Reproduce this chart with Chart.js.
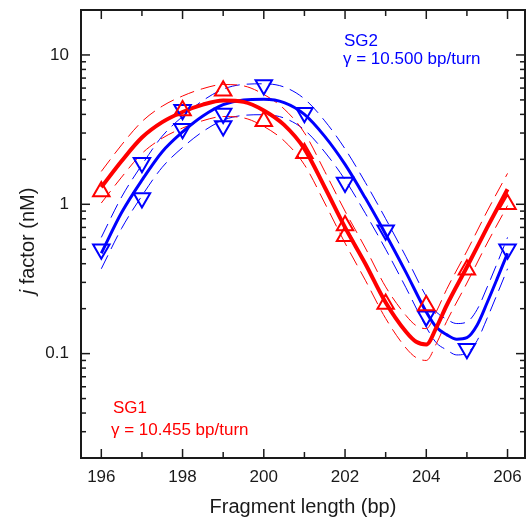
<!DOCTYPE html>
<html lang="en">
<head>
<meta charset="UTF-8">
<script src="https://cdn.jsdelivr.net/npm/chart.js@4.4.0/dist/chart.umd.min.js"></script>
<style>
  html, body { margin: 0; padding: 0; background: #fff; }
  #wrap { width: 527px; height: 519px; }
</style>
</head>
<body>
<div id="wrap"><canvas id="chart" width="527" height="519"></canvas></div>
<script>
// measured points
const sg1X = [196, 198, 199, 200, 201, 202, 202, 203, 204, 205, 206];
const sg1Y = [1.22, 4.25, 5.75, 3.6, 2.2, 0.72, 0.61, 0.215, 0.21, 0.365, 1.0];
const sg2X = [196, 197, 197, 198, 198, 199, 199, 200, 201, 202, 203, 204, 205, 206];
const sg2Y = [0.5, 1.9, 1.1, 4.3, 3.2, 4.05, 3.35, 6.3, 4.1, 1.4, 0.67, 0.178, 0.108, 0.5];

// fitted curves and their dashed bands
const fit1X = [196, 196.5, 197, 197.5, 198, 198.5, 199, 199.5, 200, 200.5, 201, 201.5, 202, 202.5, 203, 203.5, 203.75, 204, 204.25, 204.5, 205, 205.5, 206];
const fit1Y = [1.3, 1.95, 2.8, 3.55, 4.15, 4.65, 4.95, 4.85, 4.25, 3.4, 2.35, 1.3, 0.7, 0.4, 0.22, 0.14, 0.12, 0.115, 0.15, 0.21, 0.38, 0.7, 1.26];
const fit1Hi = [1.66, 2.5, 3.58, 4.54, 5.31, 5.95, 6.34, 6.21, 5.44, 4.35, 3.01, 1.66, 0.9, 0.51, 0.28, 0.18, 0.154, 0.147, 0.192, 0.269, 0.486, 0.9, 1.61];
const fit1Lo = [1.02, 1.52, 2.19, 2.77, 3.24, 3.63, 3.87, 3.79, 3.32, 2.66, 1.84, 1.02, 0.55, 0.31, 0.172, 0.109, 0.094, 0.09, 0.117, 0.164, 0.297, 0.55, 0.98];

const fit2X = [196, 196.5, 197, 197.5, 198, 198.5, 199, 199.5, 200, 200.5, 201, 201.5, 202, 202.5, 203, 203.5, 204, 204.25, 204.5, 204.75, 205, 205.25, 205.5, 205.75, 206];
const fit2Y = [0.47, 0.88, 1.45, 2.25, 3.05, 3.9, 4.65, 5.0, 5.05, 4.8, 4.0, 2.85, 1.85, 1.1, 0.63, 0.35, 0.19, 0.15, 0.134, 0.125, 0.128, 0.155, 0.22, 0.32, 0.47];
const fit2Hi = [0.6, 1.12, 1.84, 2.86, 3.87, 4.95, 5.9, 6.35, 6.41, 6.1, 5.08, 3.62, 2.35, 1.4, 0.8, 0.445, 0.241, 0.19, 0.17, 0.159, 0.163, 0.197, 0.279, 0.406, 0.6];
const fit2Lo = [0.37, 0.69, 1.14, 1.77, 2.4, 3.07, 3.66, 3.94, 3.98, 3.78, 3.15, 2.24, 1.46, 0.87, 0.5, 0.276, 0.15, 0.118, 0.106, 0.098, 0.101, 0.122, 0.173, 0.252, 0.37];

// ticks
const xMajor = [196, 198, 200, 202, 204, 206];
const xMinor = [197, 199, 201, 203, 205];
const yMajor = [0.1, 1, 10];
const yMinor = [0.02, 0.03, 0.04, 0.05, 0.06, 0.07, 0.08, 0.09, 0.2, 0.3, 0.4, 0.5, 0.6, 0.7, 0.8, 0.9, 2, 3, 4, 5, 6, 7, 8, 9];

const RED = '#ff0000';
const BLUE = '#0000ff';
const INK = '#1a1a1a';
const FONT = '"Liberation Sans", Arial, sans-serif';

function pts(xs, ys) {
    return xs.map((x, i) => ({ x: x, y: ys[i] }));
}

function curve(xs, ys, color, width, dashed) {
    return {
        data: pts(xs, ys),
        showLine: true,
        borderColor: color,
        borderWidth: width,
        borderDash: dashed ? [15, 7] : [],
        pointRadius: 0,
        cubicInterpolationMode: 'monotone',
        fill: false
    };
}

const frameTicks = {
    id: 'frameTicks',
    beforeDatasetsDraw(chart) {
        const { ctx, chartArea: a, scales: { x, y } } = chart;
        ctx.save();
        ctx.strokeStyle = INK;
        ctx.lineWidth = 1.5;
        const seg = (x1, y1, x2, y2) => {
            ctx.beginPath();
            ctx.moveTo(x1, y1);
            ctx.lineTo(x2, y2);
            ctx.stroke();
        };
        xMajor.forEach(v => {
            const p = x.getPixelForValue(v);
            seg(p, a.bottom, p, a.bottom - 9);
            seg(p, a.top, p, a.top + 9);
        });
        xMinor.forEach(v => {
            const p = x.getPixelForValue(v);
            seg(p, a.bottom, p, a.bottom - 6);
            seg(p, a.top, p, a.top + 6);
        });
        yMajor.forEach(v => {
            const p = y.getPixelForValue(v);
            seg(a.left, p, a.left + 9, p);
            seg(a.right, p, a.right - 9, p);
        });
        yMinor.forEach(v => {
            const p = y.getPixelForValue(v);
            seg(a.left, p, a.left + 5, p);
            seg(a.right, p, a.right - 5, p);
        });
        ctx.lineWidth = 2;
        ctx.strokeRect(a.left, a.top, a.right - a.left, a.bottom - a.top);

        // x tick labels
        ctx.fillStyle = INK;
        ctx.font = '17px ' + FONT;
        ctx.textAlign = 'center';
        ctx.textBaseline = 'alphabetic';
        xMajor.forEach(v => {
            ctx.fillText(String(v), x.getPixelForValue(v), a.bottom + 24);
        });
        ctx.restore();
    },
    afterDraw(chart) {
        const { ctx, chartArea: a } = chart;
        ctx.save();
        ctx.textBaseline = 'alphabetic';
        ctx.textAlign = 'left';

        ctx.font = '17px ' + FONT;
        ctx.fillStyle = BLUE;
        ctx.fillText('SG2', 344, 46);
        ctx.fillText('\u03b3 = 10.500 bp/turn', 343, 64);
        ctx.fillStyle = RED;
        ctx.fillText('SG1', 113, 413);
        ctx.fillText('\u03b3 = 10.455 bp/turn', 111, 435);

        // axis titles
        ctx.fillStyle = INK;
        ctx.font = '20px ' + FONT;
        ctx.textAlign = 'center';
        ctx.fillText('Fragment length (bp)', (a.left + a.right) / 2, 513);

        ctx.translate(34, 241);
        ctx.rotate(-Math.PI / 2);
        ctx.textAlign = 'left';
        ctx.font = 'italic 20px ' + FONT;
        const j = 'j ';
        const wj = ctx.measureText(j).width;
        ctx.font = '20px ' + FONT;
        const rest = 'factor (nM)';
        const wr = ctx.measureText(rest).width;
        const x0 = -(wj + wr) / 2;
        ctx.font = 'italic 20px ' + FONT;
        ctx.fillText(j, x0, 0);
        ctx.font = '20px ' + FONT;
        ctx.fillText(rest, x0 + wj, 0);
        ctx.restore();
    }
};

const ctx = document.getElementById('chart').getContext('2d');
new Chart(ctx, {
    type: 'scatter',
    data: {
        datasets: [
            {
                data: pts(sg1X, sg1Y),
                pointStyle: 'triangle',
                pointRadius: 9.5,
                pointBorderWidth: 2,
                borderColor: RED,
                backgroundColor: 'rgba(0,0,0,0)',
                showLine: false
            },
            {
                data: pts(sg2X, sg2Y),
                pointStyle: 'triangle',
                rotation: 180,
                pointRadius: 9.5,
                pointBorderWidth: 2,
                borderColor: BLUE,
                backgroundColor: 'rgba(0,0,0,0)',
                showLine: false
            },
            curve(fit1X, fit1Y, RED, 4, false),
            curve(fit2X, fit2Y, BLUE, 3, false),
            curve(fit1X, fit1Hi, RED, 1, true),
            curve(fit1X, fit1Lo, RED, 1, true),
            curve(fit2X, fit2Hi, BLUE, 1, true),
            curve(fit2X, fit2Lo, BLUE, 1, true)
        ]
    },
    options: {
        responsive: false,
        animation: false,
        layout: { autoPadding: false, padding: { top: 10, right: 2, left: 0, bottom: 0 } },
        plugins: {
            legend: { display: false },
            tooltip: { enabled: false }
        },
        scales: {
            x: {
                type: 'linear',
                min: 195.5,
                max: 206.43,
                grid: { display: false, drawTicks: false },
                border: { display: false },
                ticks: { display: false },
                afterFit: s => { s.height = 61; s.paddingLeft = 0; s.paddingRight = 0; }
            },
            y: {
                type: 'logarithmic',
                min: 0.02,
                max: 20,
                grid: { display: false, drawTicks: false },
                border: { display: false },
                afterBuildTicks: s => { s.ticks = yMajor.map(v => ({ value: v })); },
                afterFit: s => { s.width = 81; s.paddingTop = 0; s.paddingBottom = 0; },
                ticks: {
                    padding: 12,
                    color: INK,
                    font: { family: FONT, size: 17 },
                    callback: v => String(v)
                }
            }
        }
    },
    plugins: [frameTicks]
});
</script>
</body>
</html>
